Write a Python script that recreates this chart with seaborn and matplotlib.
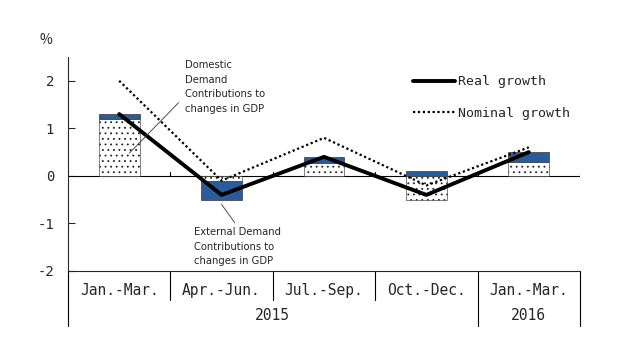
import numpy as np
import pandas as pd
import matplotlib
matplotlib.use("Agg")
from matplotlib import pyplot as plt
from matplotlib.lines import Line2D
import matplotlib.transforms as mtransforms
import seaborn as sns

# data (%)
quarters = ["Jan.-Mar.", "Apr.-Jun.", "Jul.-Sep.", "Oct.-Dec.", "Jan.-Mar."]
years = ["2015", "2016"]
year_span = [(0, 3), (4, 4)]
domestic = [1.2, -0.1, 0.28, -0.5, 0.3]
external = [0.1, -0.4, 0.12, 0.1, 0.2]
real_growth = [1.3, -0.4, 0.4, -0.4, 0.5]
nominal_growth = [2.0, -0.1, 0.8, -0.2, 0.6]
yticks = [-2, -1, 0, 1, 2]

sns.set_style("white")
plt.rcParams["font.family"] = ["DejaVu Sans Mono", "DejaVu Sans"]
plt.rcParams["hatch.linewidth"] = 0.6

pos = np.arange(len(quarters))
# external part stacks on top of domestic when both go the same way
ext_bottom = [d if (d * e) > 0 else 0 for d, e in zip(domestic, external)]

fig = plt.figure(figsize=(6.29, 3.52), dpi=100)
ax = fig.add_axes([68 / 629, 1 - 271 / 352, 512 / 629, 214 / 352])

sns.barplot(x=pos, y=domestic, native_scale=True, width=0.4, color="white",
            saturation=1, edgecolor="#222222", linewidth=0.4, hatch="...",
            ax=ax, zorder=2)
sns.barplot(x=pos, y=external, bottom=ext_bottom, native_scale=True, width=0.4,
            color="#2A5C9C", saturation=1, edgecolor="#4a4a4a", linewidth=0.6,
            ax=ax, zorder=2)

sns.lineplot(x=pos, y=nominal_growth, color="black", linewidth=1.6,
             linestyle=(0, (1, 1.2)), ax=ax, zorder=3, label="Nominal growth")
sns.lineplot(x=pos, y=real_growth, color="black", linewidth=2.8,
             ax=ax, zorder=4, label="Real growth")

ax.set_xlim(-0.5, 4.5)
ax.set_ylim(-2, 2.5)
ax.set_yticks(yticks)
ax.set_yticklabels([str(t) for t in yticks], fontsize=10)
ax.set_xticks([])
ax.tick_params(axis="y", direction="in", length=5, width=0.8, pad=10, left=True)
for s in ["top", "right"]:
    ax.spines[s].set_visible(False)
ax.spines["left"].set_linewidth(0.8)
ax.spines["bottom"].set_linewidth(0.8)
ax.set_xlabel("")
ax.axhline(0, color="black", linewidth=0.8, zorder=1)
for b in np.arange(0.5, 5, 1):
    ax.plot([b, b], [0, 0.09], color="black", linewidth=0.8, zorder=1)

ax.text(-0.72, 2.85, "%", fontsize=10, ha="center", va="center",
        family=["Noto Sans CJK JP", "DejaVu Sans"])

handles, labels = ax.get_legend_handles_labels()
ax.legend(handles[::-1], labels[::-1], loc="upper left", frameon=False,
          bbox_to_anchor=(0.65, 0.97), handlelength=3.2, handletextpad=0.2,
          labelspacing=1.4, fontsize=9.5)

# annotations
ax.text(0.64, 2.43, "Domestic\nDemand\nContributions to\nchanges in GDP",
        fontsize=7.2, va="top", ha="left", linespacing=1.55,
        family=["DejaVu Sans"])
ax.plot([0.58, 0.1], [1.54, 0.48], color="#333333", linewidth=0.6, zorder=5)
ax.text(0.73, -1.08, "External Demand\nContributions to\nchanges in GDP",
        fontsize=7.2, va="top", ha="left", linespacing=1.55,
        family=["DejaVu Sans"])
ax.plot([1.0, 1.13], [-0.6, -0.99], color="#333333", linewidth=0.6, zorder=5)

# table of quarters and years below the axis
tr = mtransforms.blended_transform_factory(ax.transData, ax.transAxes)
for i, q in enumerate(quarters):
    ax.text(i, -0.09, q, transform=tr, ha="center", va="center", fontsize=10.5)
for b in [0.5, 1.5, 2.5]:
    ax.add_line(Line2D([b, b], [0, -0.135], transform=tr, color="black",
                       linewidth=0.8, clip_on=False))
for b in [-0.5, 3.5, 4.5]:
    ax.add_line(Line2D([b, b], [0, -0.255], transform=tr, color="black",
                       linewidth=0.8, clip_on=False))
for y, (a, b) in zip(years, year_span):
    ax.text((a + b) / 2, -0.21, y, transform=tr, ha="center", va="center",
            fontsize=10.5)

fig.savefig("out.png", dpi=100)
